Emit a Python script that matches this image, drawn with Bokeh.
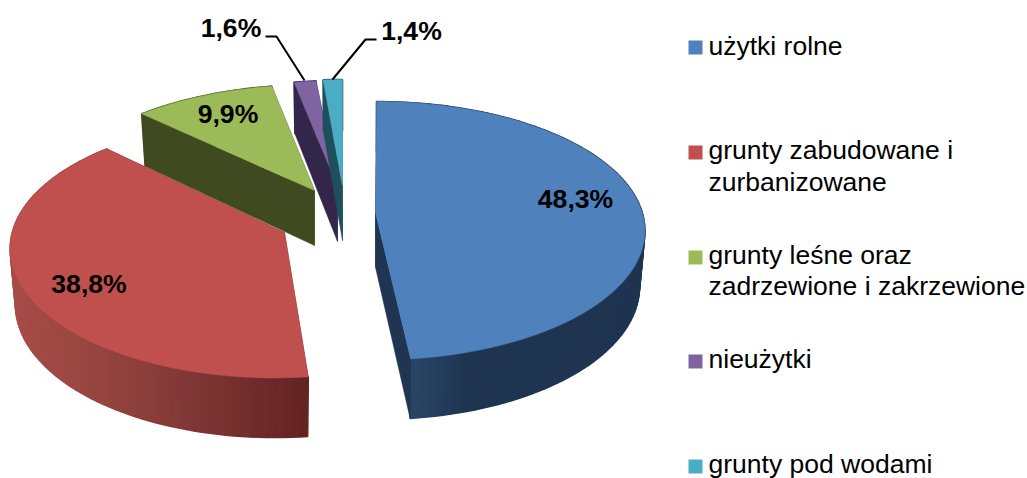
import numpy as np
from bokeh.plotting import figure
from bokeh.models import Range1d
from bokeh.core.properties import value
from bokeh.embed import file_html
from bokeh.resources import INLINE

categories = ["użytki rolne", "grunty zabudowane i zurbanizowane",
              "grunty leśne oraz zadrzewione i zakrzewione", "nieużytki", "grunty pod wodami"]
shares = [48.3, 38.8, 9.9, 1.6, 1.4]
legend_lines = [["użytki rolne"], ["grunty zabudowane i", "zurbanizowane"],
                ["grunty leśne oraz", "zadrzewione i zakrzewione"], ["nieużytki"], ["grunty pod wodami"]]
share_labels = [f"{v:.1f}%".replace(".", ",") for v in shares]

# colours
top_colors = ["#4F81BD", "#C0504D", "#9BBB59", "#8064A2", "#4BACC6"]
wall_colors = ["#1F3552", "#632423", "#3F4A20", "#32274A", "#1F4F5C"]

# layout (pixels in the window)
W, H = 1027, 478
centers = {0: (376, 207), 1: (274, 225), 2: (314, 190), 3: (335, 186), 4: (342, 185)}
apexes = {0: (375, 212), 1: (284, 232), 2: (314, 190), 3: (337, 186), 4: (342, 185)}
radii_x = {0: 264, 1: 260, 2: 268, 3: 260, 4: 260}
RY, K, DEPTH, SHRINK = 125, 0.18, 55, 0.98
rim_x = {0: [412, 470, 650], 1: [10, 100, 200, 308]}
rim_c = {0: [(42, 70, 104), (31, 52, 80), (31, 52, 80)],
         1: [(168, 76, 72), (150, 69, 64), (126, 54, 52), (99, 35, 34)]}

p = figure(width=W, height=H, x_range=Range1d(0, W), y_range=Range1d(H, 0),
           output_backend="svg", toolbar_location=None, min_border=0,
           outline_line_color=None, background_fill_color="white", border_fill_color="white",
           styles={"position": "absolute", "left": "0px", "top": "0px"})
p.axis.visible = False
p.grid.visible = False


def proj(i, th, lower=False):
    cx, cy = centers[i]
    u, v = np.sin(th), -np.cos(th)
    s = 1 / (1 - K * v)
    z = SHRINK if lower else 1
    x = cx + radii_x[i] * u * s * z
    y = cy + RY * v * s * z
    if lower:
        y = y + DEPTH * s ** 0.4 + RY * v * s * (1 - z)
    return x, y


def apex(i, lower=False):
    ax, ay = apexes[i]
    return ax, ay + (DEPTH if lower else 0)


edges = np.cumsum([0] + shares) / sum(shares) * 2 * np.pi
for i in [2, 3, 4, 1, 0]:
    a0, a1 = edges[i], edges[i + 1]
    arc = np.linspace(a0, a1, max(3, int(np.degrees(a1 - a0) / 1.5)))
    # outer rim
    xs, ys, cs = [], [], []
    for t0, t1 in zip(arc[:-1], arc[1:]):
        x0, y0 = proj(i, t0); x1, y1 = proj(i, t1)
        x2, y2 = proj(i, t1, True); x3, y3 = proj(i, t0, True)
        xs.append([x0, x1, x2, x3]); ys.append([y0, y1, y2, y3])
        if i in rim_x:
            xm = (x0 + x1) / 2
            rgb = [int(np.interp(xm, rim_x[i], [c[k] for c in rim_c[i]])) for k in range(3)]
            cs.append("#%02x%02x%02x" % tuple(rgb))
        else:
            cs.append(wall_colors[i])
    p.patches(xs, ys, fill_color=cs, line_color=cs, line_width=1.6)
    # radial cut faces
    for t in (a1, a0):
        ax, ay = apex(i); bx, by = apex(i, True)
        ox, oy = proj(i, t); qx, qy = proj(i, t, True)
        p.patch([ax, ox, qx, bx], [ay, oy, qy, by], fill_color=wall_colors[i],
                line_color=wall_colors[i], line_width=0.5)
    # top face
    pts = [proj(i, t) for t in arc]
    ax, ay = apex(i)
    p.patch([ax] + [q[0] for q in pts], [ay] + [q[1] for q in pts],
            fill_color=top_colors[i], line_color=top_colors[i], line_width=0.5)

# leader lines
p.line([265, 276, 304], [36, 36, 80], line_color="black", line_width=2)
p.line([376, 365, 332], [39, 39, 79], line_color="black", line_width=2)

# data labels
lab_x = [575, 88.5, 227.5, 230.5, 411]
lab_y = [208, 293, 123, 37, 40]
p.text(lab_x, lab_y, text=share_labels, text_font=value("Liberation Sans"), text_font_style="bold",
       text_font_size="26.6px", text_align="center", text_baseline="alphabetic", text_color="black",
       y_offset=-10)

# legend
sq_y = [47, 152, 257, 361, 466]
base_y = [[55], [159, 191], [264, 295], [368], [473]]
p.scatter([695] * 5, sq_y, marker="square", size=14, fill_color=top_colors, line_color=None)
tx, ty, tt = [], [], []
for lines, ys_ in zip(legend_lines, base_y):
    for s_, y_ in zip(lines, ys_):
        tx.append(708); ty.append(y_); tt.append(s_)
p.text(tx, ty, text=tt, text_font=value("Liberation Sans"), text_font_size="26.5px",
       text_baseline="alphabetic", text_color="black", y_offset=-10)

open("out.html", "w").write(file_html(p, INLINE))
